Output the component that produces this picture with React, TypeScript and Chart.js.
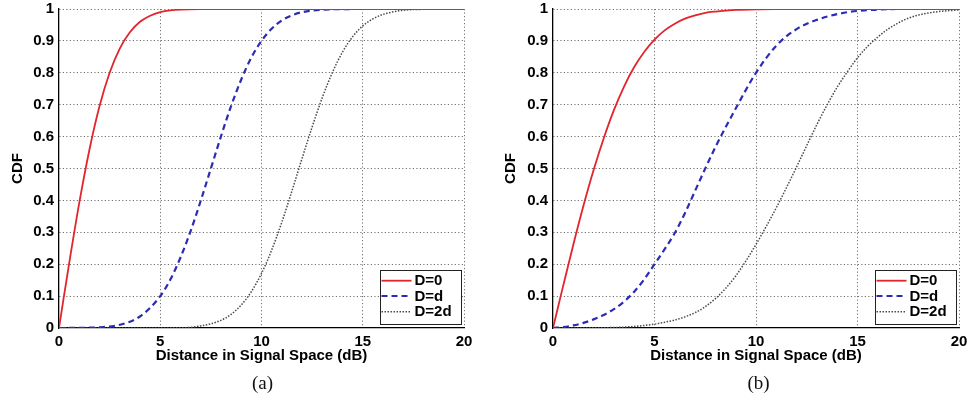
import React, { useEffect, useRef } from 'react';
import { Chart, registerables } from 'chart.js';

Chart.register(...registerables);

// ---- data ----
const seriesLabels = ['D=0', 'D=d', 'D=2d'];
const panelLabels = ['(a)', '(b)'];
const xTicks = [0, 5, 10, 15, 20];
const yTicks = [0, 0.1, 0.2, 0.3, 0.4, 0.5, 0.6, 0.7, 0.8, 0.9, 1];
const yTickLabels = ['0', '0.1', '0.2', '0.3', '0.4', '0.5', '0.6', '0.7', '0.8', '0.9', '1'];
const xTitle = 'Distance in Signal Space (dB)';
const yTitle = 'CDF';

// panel (a)
const aD0X = [0, 0.25, 0.5, 1, 1.5, 2, 2.5, 3, 3.5, 4, 4.5, 5, 5.5, 6, 7, 8, 20];
const aD0Y = [0, 0.102, 0.202, 0.392, 0.558, 0.695, 0.8, 0.876, 0.927, 0.96, 0.979, 0.99, 0.9955, 0.998, 0.9997, 1, 1];
const aDdX = [0, 1, 2, 3, 4, 5, 5.5, 6, 6.5, 7, 7.5, 8, 8.5, 9, 9.5, 10, 10.5, 11, 11.5, 12, 13, 14, 15, 20];
const aDdY = [0, 0.0004, 0.0024, 0.01, 0.036, 0.1, 0.152, 0.221, 0.304, 0.399, 0.5, 0.601, 0.696, 0.779, 0.848, 0.9, 0.938, 0.964, 0.98, 0.99, 0.9976, 0.9996, 1, 1];
const aD2dX = [0, 6, 7, 8, 8.5, 9, 9.5, 10, 10.5, 11, 11.5, 12, 12.5, 13, 13.5, 14, 14.5, 15, 15.5, 16, 17, 18, 19, 20];
const aD2dY = [0, 0.0005, 0.0064, 0.024, 0.043, 0.072, 0.114, 0.171, 0.244, 0.331, 0.429, 0.531, 0.63, 0.722, 0.801, 0.865, 0.913, 0.947, 0.969, 0.983, 0.996, 0.999, 1, 1];

// panel (b)
const bD0X = [0, 0.25, 0.5, 1, 1.5, 2, 2.5, 3, 3.5, 4, 4.5, 5, 5.5, 6, 6.5, 7, 7.5, 8, 9, 10, 11, 12, 20];
const bD0Y = [0, 0.066, 0.132, 0.261, 0.383, 0.495, 0.595, 0.683, 0.757, 0.818, 0.866, 0.904, 0.933, 0.954, 0.97, 0.98, 0.988, 0.992, 0.997, 0.9991, 0.9998, 1, 1];
const bDdX = [0, 0.5, 1, 1.5, 2, 2.5, 3, 3.5, 4, 4.5, 5, 5.5, 6, 6.5, 7, 7.5, 8, 9, 10, 11, 12, 13, 14, 15, 16, 17, 20];
const bDdY = [0, 0.003, 0.008, 0.016, 0.027, 0.041, 0.059, 0.083, 0.114, 0.153, 0.2, 0.247, 0.298, 0.36, 0.43, 0.5, 0.567, 0.688, 0.8, 0.885, 0.937, 0.966, 0.984, 0.994, 0.998, 1, 1];
const bD2dX = [0, 3, 4, 5, 5.5, 6, 6.5, 7, 7.5, 8, 8.5, 9, 9.5, 10, 10.5, 11, 11.5, 12, 12.5, 13, 13.5, 14, 14.5, 15, 15.5, 16, 16.5, 17, 17.5, 18, 19, 20];
const bD2dY = [0, 0.0015, 0.005, 0.012, 0.018, 0.025, 0.035, 0.048, 0.067, 0.092, 0.124, 0.163, 0.21, 0.262, 0.318, 0.377, 0.44, 0.505, 0.572, 0.638, 0.699, 0.755, 0.803, 0.847, 0.883, 0.912, 0.937, 0.956, 0.971, 0.981, 0.992, 0.997];

const panelSeries = [
  [[aD0X, aD0Y], [aDdX, aDdY], [aD2dX, aD2dY]],
  [[bD0X, bD0Y], [bDdX, bDdY], [bD2dX, bD2dY]],
];

// ---- styles ----
const FONT = 'Liberation Sans, Arial, Helvetica, sans-serif';
const seriesStyles = [
  { color: '#e2242c', width: 1.8, dash: [] as number[] },
  { color: '#2b2bb5', width: 2.2, dash: [6, 4] },
  { color: '#4a4a4a', width: 1.5, dash: [1.5, 1.5] },
];

const panelGeom = [
  { left: 0, width: 484, padRight: 20, yAxisWidth: 59, yTitlePad: 8.5, labelX: 262.5 },
  { left: 484, width: 484, padRight: 9, yAxisWidth: 69, yTitlePad: 18, labelX: 758.5 },
];

const insideLegend = {
  id: 'insideLegend',
  afterDatasetsDraw(chart: any) {
    const { ctx, chartArea } = chart;
    const bw = 81;
    const bh = 54;
    const bx = chartArea.right - 84.5;
    const by = chartArea.bottom - 58;
    ctx.save();
    ctx.fillStyle = '#ffffff';
    ctx.fillRect(bx, by, bw, bh);
    ctx.strokeStyle = '#222';
    ctx.lineWidth = 1;
    ctx.setLineDash([]);
    ctx.strokeRect(Math.round(bx) + 0.5, Math.round(by) + 0.5, bw, bh);
    const rows = [10.7, 26, 41.7];
    chart.data.datasets.forEach((ds: any, i: number) => {
      const y = by + rows[i];
      ctx.beginPath();
      ctx.strokeStyle = ds.borderColor;
      ctx.lineWidth = ds.borderWidth;
      ctx.setLineDash(ds.borderDash || []);
      ctx.moveTo(bx + 2, y);
      ctx.lineTo(bx + 32, y);
      ctx.stroke();
      ctx.setLineDash([]);
      ctx.fillStyle = '#000';
      ctx.font = `bold 15px ${FONT}`;
      ctx.textBaseline = 'middle';
      ctx.textAlign = 'left';
      ctx.fillText(ds.label, bx + 35, y + 0.5);
    });
    ctx.restore();
  },
};

function Panel({ index }: { index: number }) {
  const ref = useRef<HTMLCanvasElement | null>(null);
  const g = panelGeom[index];
  useEffect(() => {
    if (!ref.current) return;
    const datasets = panelSeries[index].map(([xs, ys], i) => ({
      label: seriesLabels[i],
      data: xs.map((x, k) => ({ x, y: ys[k] })),
      borderColor: seriesStyles[i].color,
      backgroundColor: seriesStyles[i].color,
      borderWidth: seriesStyles[i].width,
      borderDash: seriesStyles[i].dash,
      pointRadius: 0,
      fill: false,
      cubicInterpolationMode: 'monotone' as const,
    }));
    const gridColor = (c: any) => (c.index === 0 ? 'rgba(0,0,0,0)' : '#707070');
    const chart = new Chart(ref.current, {
      type: 'line',
      data: { datasets },
      plugins: [insideLegend],
      options: {
        responsive: false,
        animation: false,
        devicePixelRatio: 1,
        layout: { padding: { left: 0, right: g.padRight, top: 9, bottom: 0 } },
        plugins: { legend: { display: false }, tooltip: { enabled: false } },
        scales: {
          x: {
            type: 'linear',
            min: 0,
            max: 20,
            afterBuildTicks: (s: any) => {
              s.ticks = xTicks.map((v) => ({ value: v }));
            },
            afterFit: (s: any) => {
              s.height = 81;
              s.paddingLeft = 0;
              s.paddingRight = 0;
            },
            ticks: {
              color: '#000',
              padding: 5,
              maxRotation: 0,
              font: { family: FONT, size: 15, weight: 'bold' },
              callback: (v: any) => String(v),
            },
            grid: { color: gridColor, lineWidth: 1, drawTicks: false },
            border: { display: true, color: '#000', width: 1.3, dash: [1.2, 2.3] },
            title: {
              display: true,
              text: xTitle,
              color: '#000',
              font: { family: FONT, size: 15, weight: 'bold' },
              padding: { top: 0, bottom: 44 },
            },
          },
          y: {
            type: 'linear',
            min: 0,
            max: 1,
            afterBuildTicks: (s: any) => {
              s.ticks = yTicks.map((v) => ({ value: v }));
            },
            afterFit: (s: any) => {
              s.width = g.yAxisWidth;
              s.paddingTop = 0;
              s.paddingBottom = 0;
            },
            ticks: {
              color: '#000',
              padding: 5,
              font: { family: FONT, size: 15, weight: 'bold' },
              callback: (_v: any, i: number) => yTickLabels[i],
            },
            grid: { color: gridColor, lineWidth: 1, drawTicks: false },
            border: { display: true, color: '#000', width: 1.3, dash: [1.2, 2.3] },
            title: {
              display: true,
              text: yTitle,
              color: '#000',
              font: { family: FONT, size: 15, weight: 'bold' },
              padding: { top: g.yTitlePad, bottom: 0 },
            },
          },
        },
      } as any,
    });
    return () => chart.destroy();
  }, [index]);
  return (
    <>
      <canvas
        ref={ref}
        width={g.width}
        height={409}
        style={{ position: 'absolute', left: g.left, top: 0, width: g.width, height: 409 }}
      />
      <div
        style={{
          position: 'absolute',
          left: g.labelX - 50,
          top: 373,
          width: 100,
          textAlign: 'center',
          fontFamily: '"Liberation Serif", "Times New Roman", serif',
          fontSize: 19,
          lineHeight: '20px',
          color: '#111',
        }}
      >
        {panelLabels[index]}
      </div>
    </>
  );
}

export default function App() {
  return (
    <div
      style={{
        position: 'fixed',
        left: 0,
        top: 0,
        width: 968,
        height: 409,
        background: '#fff',
        overflow: 'hidden',
      }}
    >
      <Panel index={0} />
      <Panel index={1} />
    </div>
  );
}
